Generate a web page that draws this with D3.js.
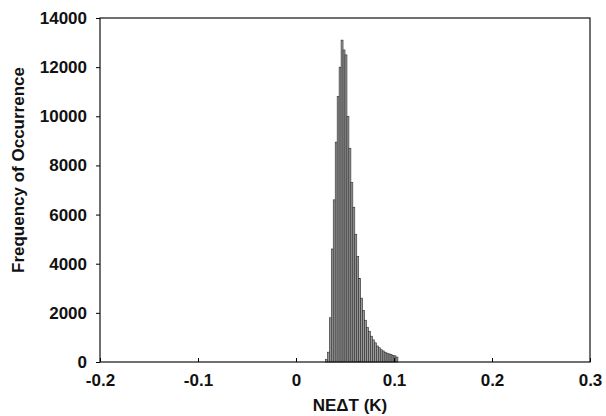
<!DOCTYPE html>
<html>
<head>
<meta charset="utf-8">
<script src="https://cdn.jsdelivr.net/npm/d3@7"></script>
<style>
  body { margin: 0; background: #fff; }
  text { font-family: Arial, "Liberation Sans", sans-serif; font-weight: bold; fill: #111; }
</style>
</head>
<body>
<svg id="canvas" width="606" height="416"></svg>
<script>
// bin start (K), bin width 0.002
let binStart = [0.030, 0.032, 0.034, 0.036, 0.038, 0.040, 0.042, 0.044, 0.046, 0.048,
                0.050, 0.052, 0.054, 0.056, 0.058, 0.060, 0.062, 0.064, 0.066, 0.068,
                0.070, 0.072, 0.074, 0.076, 0.078, 0.080, 0.082, 0.084, 0.086, 0.088,
                0.090, 0.092, 0.094, 0.096, 0.098, 0.100, 0.102]
let counts = [100, 400, 1800, 4600, 6600, 8950, 10800, 12000, 13100, 12700,
              12500, 10000, 8700, 7300, 6300, 5200, 4300, 3400, 2600, 2100,
              1700, 1400, 1250, 1050, 900, 780, 650, 580, 500, 450,
              400, 360, 330, 300, 270, 250, 200]
let binWidth = 0.002

let xTicks = [-0.2, -0.1, 0, 0.1, 0.2, 0.3]
let yTicks = [0, 2000, 4000, 6000, 8000, 10000, 12000, 14000]

let margin = { left: 100, right: 16, top: 18, bottom: 54 }
let width = 606, height = 416

let canvas = d3.select('#canvas')

let xScale = d3.scaleLinear().domain([-0.2, 0.3]).range([margin.left, width - margin.right])
let yScale = d3.scaleLinear().domain([0, 14000]).range([height - margin.bottom, margin.top])

let bins = binStart.map((b, i) => ({ x0: b, x1: b + binWidth, n: counts[i] }))

// bars
canvas.selectAll('rect.bar')
    .data(bins)
    .enter()
    .append('rect')
    .attr('class', 'bar')
    .attr('x', d => xScale(d.x0))
    .attr('width', d => xScale(d.x1) - xScale(d.x0))
    .attr('y', d => yScale(d.n))
    .attr('height', d => yScale(0) - yScale(d.n))
    .attr('fill', '#9a9a9a')
    .attr('stroke', '#2a2a2a')
    .attr('stroke-width', 0.6)

// frame
canvas.append('rect')
    .attr('x', margin.left)
    .attr('y', margin.top)
    .attr('width', width - margin.right - margin.left)
    .attr('height', height - margin.bottom - margin.top)
    .attr('fill', 'none')
    .attr('stroke', '#111')
    .attr('stroke-width', 1.2)

// y axis
let yAxis = d3.axisLeft(yScale).tickValues(yTicks).tickFormat(d3.format('d')).tickSize(4).tickPadding(9)
canvas.append('g')
    .attr('transform', `translate(${margin.left},0)`)
    .call(yAxis)
    .call(g => g.select('.domain').remove())
    .call(g => g.selectAll('text').style('font-size', '17px'))

// x axis (ticks point inward), plain hyphen for the minus
let xAxis = d3.axisBottom(xScale).tickValues(xTicks)
    .tickFormat(d => d === 0 ? '0' : d3.format('.1f')(d).replace('\u2212', '-'))
    .tickSize(-4).tickPadding(12)
canvas.append('g')
    .attr('transform', `translate(0,${height - margin.bottom})`)
    .call(xAxis)
    .call(g => g.select('.domain').remove())
    .call(g => g.selectAll('text').style('font-size', '17px'))

// labels
canvas.append('text')
    .attr('x', xScale(0.05) + 5)
    .attr('y', 411)
    .attr('text-anchor', 'middle')
    .style('font-size', '17px')
    .text('NE\u0394T (K)')

canvas.append('text')
    .attr('transform', `translate(24,170) rotate(-90)`)
    .attr('text-anchor', 'middle')
    .style('font-size', '17px')
    .text('Frequency of Occurrence')
</script>
</body>
</html>
